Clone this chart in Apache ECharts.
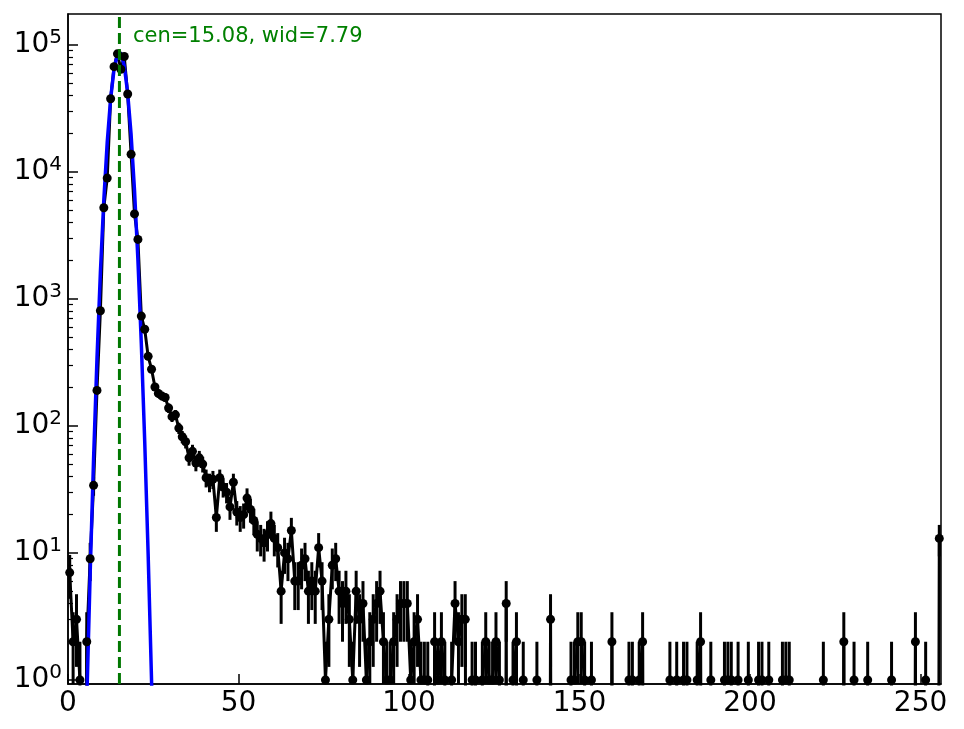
<!DOCTYPE html>
<html>
<head>
<meta charset="utf-8">
<script src="https://cdn.jsdelivr.net/npm/echarts@6/dist/echarts.min.js"></script>
<style>
html,body{margin:0;padding:0;background:#fff;}
#chart{width:964px;height:729px;}
</style>
</head>
<body>
<div id="chart"></div>
<script>
// Histogram counts per bin (bin i centred at i + 0.5)
const counts = [
  7, 2, 3, 1, 0, 2, 9, 34, 190, 805,
  5200, 8900, 37500, 67000, 84500, 64000, 80500, 40800, 13700, 4650,
  2930, 730, 575, 352, 279, 202, 180, 172, 167, 138,
  118, 122, 96, 82, 75, 56, 63, 51, 56, 50,
  39, 36, 38, 19, 39, 33, 30, 23, 36, 21,
  19, 20, 27, 22, 18, 14, 13, 12, 14, 17,
  13, 11, 5, 10, 9, 15, 6, 6, 8, 9,
  5, 6, 5, 11, 6, 1, 3, 8, 9, 5,
  4, 5, 3, 1, 5, 3, 4, 1, 2, 3,
  4, 5, 2, 1, 1, 2, 3, 4, 4, 4,
  1, 2, 3, 1, 1, 1, 0, 2, 1, 2,
  1, 0, 1, 4, 2, 3, 3, 0, 1, 1,
  0, 1, 2, 1, 1, 2, 1, 0, 4, 0,
  1, 2, 0, 1, 0, 0, 0, 1, 0, 0,
  0, 3, 0, 0, 0, 0, 0, 1, 1, 2,
  2, 1, 0, 1, 0, 0, 0, 0, 0, 2,
  0, 0, 0, 0, 1, 1, 0, 1, 2, 0,
  0, 0, 0, 0, 0, 0, 1, 0, 1, 0,
  1, 1, 0, 0, 1, 2, 0, 0, 1, 0,
  0, 0, 1, 1, 1, 0, 1, 0, 0, 1,
  0, 0, 1, 1, 0, 1, 0, 0, 0, 1,
  1, 1, 0, 0, 0, 0, 0, 0, 0, 0,
  0, 1, 0, 0, 0, 0, 0, 2, 0, 0,
  1, 0, 0, 0, 1, 0, 0, 0, 0, 0,
  0, 1, 0, 0, 0, 0, 0, 0, 2, 0,
  0, 1, 0, 0, 0, 13
];
// Fitted curve (blue), read at bin centres
const fitX = [4.5, 5.5, 6.5, 7.5, 8.5, 9.5, 10.5, 11.5, 12.5, 13.5, 14.5, 15.5, 16.5, 17.5, 18.5, 19.5, 20.5, 21.5, 22.5, 23.5, 24.5, 25.5];
const fitY = [0.05, 0.67, 6.9, 55, 339, 1617, 5958, 16985, 37447, 63870, 84280, 86027, 67935, 41494, 19606, 7163, 2026, 443, 75, 9.8, 0.99, 0.077];
// Fit parameters shown in the annotation
const fitCen = 15.08;
const fitWid = 7.79;
const annotation = 'cen=' + fitCen.toFixed(2) + ', wid=' + fitWid.toFixed(2);
// Tick labels
const xTicks = [0, 50, 100, 150, 200, 250];
const yTicks = [1, 10, 100, 1000, 10000, 100000];

const Y_MIN = 0.93, Y_MAX = 174000, X_MIN = 0, X_MAX = 256;
const minorTicks = [];
for (let k = -1; k <= 5; k++) for (let m = 2; m <= 9; m++) {
  const v = m * Math.pow(10, k);
  if (v > Y_MIN && v < Y_MAX) minorTicks.push(v);
}

const lineData = counts.map((n, i) => [i + 0.5, n > 0 ? n : 1e-9]);
const dotData = [];
const errData = [];
counts.forEach((n, i) => {
  if (n > 0) {
    const e = Math.sqrt(n);
    dotData.push([i + 0.5, n]);
    errData.push([i + 0.5, Math.max(n - e, Y_MIN), n + e]);
  }
});
const fitData = fitX.map((x, i) => [x, fitY[i]]);

const FONT = 'DejaVu Sans';
const chart = echarts.init(document.getElementById('chart'), null, {renderer: 'canvas'});
chart.setOption({
  animation: false,
  backgroundColor: '#fff',
  grid: {left: 68, right: 23, top: 14, bottom: 45, show: true, borderColor: '#000', borderWidth: 1.5, containLabel: false},
  xAxis: {
    type: 'value', min: X_MIN, max: X_MAX,
    axisLine: {show: true, onZero: false, lineStyle: {color: '#000', width: 1.5}},
    axisTick: {show: true, inside: true, length: 10, lineStyle: {color: '#000', width: 1.5}, customValues: xTicks},
    axisLabel: {color: '#000', fontFamily: FONT, fontSize: 28, margin: 6, customValues: xTicks},
    splitLine: {show: false}
  },
  yAxis: [
    {
      type: 'log', logBase: 10, min: Y_MIN, max: Y_MAX, position: 'left',
      axisLine: {show: true, lineStyle: {color: '#000', width: 1.5}},
      axisTick: {show: true, inside: true, length: 10, lineStyle: {color: '#000', width: 1.5}, customValues: yTicks},
      axisLabel: {
        color: '#000', fontFamily: FONT, margin: 6, customValues: yTicks,
        formatter: function (v) { return '{b|10}{s|' + Math.round(Math.log10(v)) + '}'; },
        rich: {
          b: {fontFamily: FONT, fontSize: 28, color: '#000'},
          s: {fontFamily: FONT, fontSize: 20, color: '#000', padding: [0, 0, 14, 0]}
        }
      },
      splitLine: {show: false}
    },
    {
      type: 'log', logBase: 10, min: Y_MIN, max: Y_MAX, position: 'left',
      axisLine: {show: false},
      axisTick: {show: true, inside: true, length: 5, lineStyle: {color: '#000', width: 1.2}, customValues: minorTicks},
      axisLabel: {show: false},
      splitLine: {show: false}
    }
  ],
  graphic: [{
    type: 'text', left: 133, top: 26, z: 100,
    style: {text: annotation, fill: '#008000', font: '21px "DejaVu Sans"'}
  }],
  series: [
    {
      name: 'data line', type: 'line', data: lineData, showSymbol: false, symbol: 'none',
      lineStyle: {color: '#000', width: 3}, clip: true, z: 2
    },
    {
      name: 'errors', type: 'custom', data: errData, clip: true, z: 2,
      renderItem: function (params, api) {
        const x = api.value(0);
        const p1 = api.coord([x, api.value(1)]);
        const p2 = api.coord([x, api.value(2)]);
        return {type: 'line', shape: {x1: p1[0], y1: p1[1], x2: p2[0], y2: p2[1]}, style: {stroke: '#000', lineWidth: 3}};
      }
    },
    {
      name: 'fit', type: 'line', data: fitData, showSymbol: false, symbol: 'none',
      lineStyle: {color: '#0000ff', width: 3.5}, clip: true, z: 3
    },
    {
      name: 'points', type: 'scatter', data: dotData, symbol: 'circle', symbolSize: 9,
      itemStyle: {color: '#000', opacity: 1}, clip: true, z: 4
    },
    {
      name: 'center', type: 'line', data: [[fitCen, Y_MIN], [fitCen, Y_MAX]], showSymbol: false, symbol: 'none',
      lineStyle: {color: '#007700', width: 3, type: [11, 5]}, z: 5
    }
  ]
});
</script>
</body>
</html>
